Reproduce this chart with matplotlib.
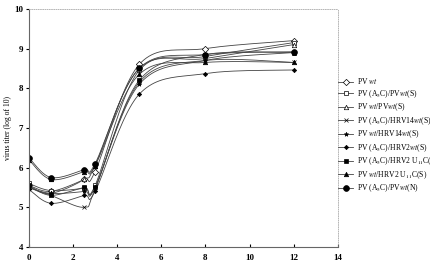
import numpy as np
import matplotlib
matplotlib.use('Agg')
import matplotlib.pyplot as plt

plt.rcParams['font.family'] = ['Liberation Serif', 'DejaVu Serif']
plt.rcParams['mathtext.fontset'] = 'stix'

# hours post infection
hours = [0, 1, 2.5, 3, 5, 8, 12]

pv_wt = [5.55, 5.40, 5.70, 5.90, 8.60, 9.00, 9.20]
a5c_pvwt_s = [5.60, 5.42, 5.48, 5.55, 8.45, 8.80, 9.15]
wt_pvwt_s = [5.50, 5.35, 5.70, 6.05, 8.50, 8.75, 9.10]
a5c_hrv14 = [5.50, 5.30, 5.00, 5.45, 8.15, 8.70, 8.65]
wt_hrv14_s = [5.50, 5.35, 5.40, 5.50, 8.10, 8.70, 8.90]
a5c_hrv2_s = [5.45, 5.10, 5.30, 5.40, 7.85, 8.37, 8.46]
a5c_hrv2_u11 = [5.55, 5.30, 5.50, 5.50, 8.20, 8.85, 8.90]
wt_hrv2_u11c = [6.20, 5.70, 5.90, 6.05, 8.35, 8.65, 8.65]
a5c_pvwt_n = [6.25, 5.75, 5.95, 6.10, 8.50, 8.85, 8.92]

labels = [r'PV $\it{wt}$',
          r'PV (A$_5$C)/PV$\it{wt}$(S)',
          r'PV $\it{wt}$/PV$\it{wt}$(S)',
          r'PV (A$_5$C)/HRV14$\it{wt}$(S)',
          r'PV $\it{wt}$/HRV14$\it{wt}$(S)',
          r'PV (A$_5$C)/HRV2$\it{wt}$(S)',
          r'PV (A$_5$C)/HRV2 U$_{11}$C(S)',
          r'PV $\it{wt}$/HRV2 U$_{11}$C(S)',
          r'PV (A$_5$C)/PV$\it{wt}$(N)']

series = [pv_wt, a5c_pvwt_s, wt_pvwt_s, a5c_hrv14, wt_hrv14_s,
          a5c_hrv2_s, a5c_hrv2_u11, wt_hrv2_u11c, a5c_pvwt_n]

# marker, size, filled
styles = [('D', 3.2, False), ('s', 3.2, False), ('^', 3.2, False), ('x', 3.2, True),
          ('*', 3.2, True), ('D', 2.2, True), ('s', 3, True), ('^', 3.2, True),
          ('o', 4.2, True)]


def smooth(xs, ys, n=24):
    # Catmull-Rom curve through the points (like Excel smoothed lines)
    p = np.column_stack([xs, ys]).astype(float)
    p = np.vstack([p[0], p, p[-1]])
    out = []
    t = np.linspace(0, 1, n)[:, None]
    for i in range(1, len(p) - 2):
        p0, p1, p2, p3 = p[i - 1], p[i], p[i + 1], p[i + 2]
        m1 = (p2 - p0) / 2
        m2 = (p3 - p1) / 2
        h00 = 2 * t**3 - 3 * t**2 + 1
        h10 = t**3 - 2 * t**2 + t
        h01 = -2 * t**3 + 3 * t**2
        h11 = t**3 - t**2
        out.append(h00 * p1 + h10 * m1 + h01 * p2 + h11 * m2)
    c = np.vstack(out)
    return c[:, 0], c[:, 1]


fig = plt.figure(figsize=(4.31, 2.69), dpi=100)
ax = fig.add_axes([0.067, 0.082, 0.717, 0.885])

for ys, lab, (mk, ms, filled) in zip(series, labels, styles):
    sx, sy = smooth(hours, ys)
    ax.plot(sx, sy, color='#444444', lw=0.6)
    ax.plot(hours, ys, ls='none', marker=mk, ms=ms, color='black',
            mfc='black' if filled else 'white', mec='black', mew=0.5)
    ax.plot([], [], color='#444444', lw=0.6, marker=mk, ms=ms,
            mfc='black' if filled else 'white', mec='black', mew=0.5,
            label=lab)

ax.set_xlim(0, 14)
ax.set_ylim(4, 10)
ax.set_xticks(range(0, 15, 2))
ax.set_yticks(range(4, 11))
ax.tick_params(axis='x', direction='in', length=2, labelsize=6.5, pad=5)
ax.tick_params(axis='y', direction='out', length=2, labelsize=6.5, pad=2)
for t in ax.get_xticklabels() + ax.get_yticklabels():
    t.set_fontweight('bold')
ax.set_ylabel('virus titer (log of 10)', fontsize=5.5)
ax.yaxis.set_label_coords(-0.055, 0.5)

for s in ['top', 'right']:
    ax.spines[s].set_linestyle(':')
    ax.spines[s].set_color('#aaaaaa')
    ax.spines[s].set_linewidth(0.6)
for s in ['left', 'bottom']:
    ax.spines[s].set_color('#666666')
    ax.spines[s].set_linewidth(0.8)

ax.legend(loc='upper left', bbox_to_anchor=(0.99, 0.73), frameon=False,
          fontsize=5.5, handlelength=2.0, handletextpad=0.5,
          labelspacing=0.25, borderaxespad=0)

fig.savefig('out.png', dpi=100)
